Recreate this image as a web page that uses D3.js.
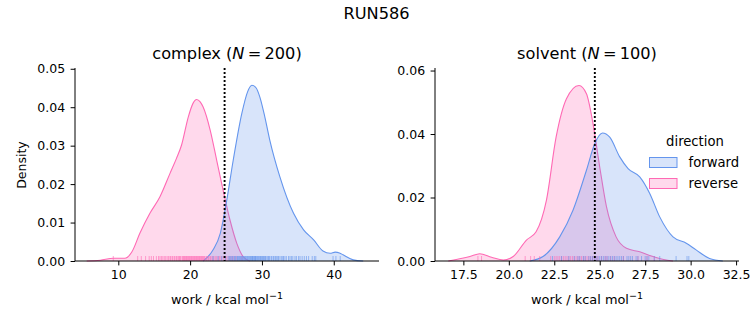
<!DOCTYPE html>
<html><head><meta charset="utf-8">
<script src="https://cdn.jsdelivr.net/npm/d3@7"></script>
<style>body{margin:0;background:#fff}svg{display:block;font-family:"DejaVu Sans",sans-serif}</style>
</head><body><svg id="c" width="753" height="325"></svg>
<script>
// ---- data ----
const panels = ["complex", "solvent"];
const panelN = [200, 100];
const directions = ["forward", "reverse"];
const colors = ["#6495ED", "#FF69B4"];
const deltaG = [24.8, 24.73];

// KDE curves [work, density]
const complexForward = [[21.8,0],[23.2,0.0029],[24.2,0.0072],[25.1,0.0158],[26.0,0.0262],[27.2,0.0384],[28.0,0.0440],[28.6,0.0457],[29.2,0.0450],[29.7,0.0427],[30.4,0.0375],[31.1,0.0314],[32.5,0.0219],[34.4,0.0124],[35.8,0.0081],[37.2,0.0055],[38.5,0.0026],[39.5,0.0020],[40.2,0.0023],[40.8,0.0021],[41.3,0.0016],[42.7,0.0003],[44.1,0]];
const complexReverse = [[5.6,0],[7.5,0.0002],[9.3,0.0007],[10.9,0.0007],[11.9,0.0024],[13.0,0.0072],[14.4,0.0124],[15.8,0.0167],[17.2,0.0228],[18.1,0.0267],[18.8,0.0301],[19.75,0.0375],[20.4,0.0410],[20.9,0.0420],[21.4,0.0414],[21.8,0.0401],[22.8,0.0340],[23.7,0.0262],[24.6,0.0184],[25.56,0.0106],[26.5,0.0046],[27.4,0.0011],[28.3,0]];
const solventForward = [[21.15,0],[21.88,0.0014],[22.8,0.0076],[23.53,0.0160],[24.27,0.0286],[24.73,0.0370],[25.15,0.0403],[25.55,0.0390],[26.1,0.0328],[26.56,0.0291],[27.2,0.0265],[27.75,0.0213],[28.3,0.0139],[29.03,0.0076],[29.76,0.0056],[30.3,0.0035],[31.04,0.0008],[31.77,0]];
const solventReverse = [[16.67,0],[17.86,0.0014],[18.4,0.0023],[19.05,0.0012],[19.7,0.0003],[20.24,0.0014],[20.97,0.0066],[21.5,0.0092],[22.07,0.0192],[22.6,0.0390],[23.17,0.0511],[23.86,0.0553],[24.27,0.0527],[24.63,0.0433],[25.0,0.0296],[25.37,0.0171],[25.9,0.0076],[26.47,0.0040],[27.2,0.0029],[27.93,0.0014],[28.66,0.0003],[29.03,0]];

// rug samples (work values)
const complexForwardRug = [23.2,23.9,24.4,24.9,25.3,25.5,25.6,25.8,25.9,26.1,26.2,26.3,26.5,26.6,26.7,26.8,26.9,27.0,27.1,27.2,27.3,27.4,27.5,27.6,27.7,27.8,27.9,28.0,28.1,28.2,28.3,28.4,28.5,28.6,28.65,28.7,28.8,28.9,29.0,29.05,29.1,29.2,29.3,29.4,29.5,29.6,29.7,29.8,29.9,30.0,30.1,30.2,30.3,30.4,30.5,30.6,30.8,30.9,31.0,31.1,31.3,31.4,31.6,31.7,31.9,32.0,32.2,32.3,32.5,32.7,32.9,33.0,33.2,33.4,33.7,33.9,34.1,34.3,34.6,34.8,35.1,35.3,35.6,35.9,36.2,36.5,37.0,37.3,37.5,39.9,40.3,40.9];
const complexReverseRug = [9.3,12.7,13.2,13.8,14.3,14.6,14.9,15.3,15.6,15.8,16.0,16.2,16.4,16.6,16.8,17.0,17.2,17.3,17.5,17.6,17.8,17.9,18.1,18.2,18.4,18.5,18.6,18.7,18.9,19.0,19.1,19.2,19.3,19.4,19.5,19.6,19.7,19.8,19.9,20.0,20.1,20.2,20.3,20.4,20.5,20.6,20.7,20.8,20.9,21.0,21.1,21.2,21.3,21.4,21.5,21.6,21.7,21.8,21.9,22.0,22.2,22.3,22.5,22.6,22.8,22.9,23.1,23.3,23.5,23.7,23.9,24.1,24.3,24.6,24.9,25.1,25.4,25.7,26.0,26.4,27.2];
const solventForwardRug = [22.4,22.9,23.3,23.6,23.8,23.9,24.1,24.2,24.4,24.5,24.6,24.7,24.8,24.9,25.0,25.1,25.2,25.3,25.4,25.5,25.6,25.7,25.8,25.9,26.0,26.1,26.2,26.3,26.5,26.6,26.7,26.8,27.0,27.1,27.3,27.5,27.6,27.7,28.0,28.3,29.2,29.8,29.9];
const solventReverseRug = [18.3,18.5,20.9,21.2,21.4,21.7,22.3,22.5,22.6,22.7,22.8,22.9,23.0,23.1,23.2,23.3,23.4,23.5,23.6,23.7,23.8,23.9,24.0,24.1,24.2,24.3,24.4,24.5,24.6,24.7,24.8,24.9,25.1,25.3,25.4,25.6,25.8,26.3,27.1,27.6,28.0];

const xTicks = [[10,20,30,40],[17.5,20.0,22.5,25.0,27.5,30.0,32.5]];
const yTicks = [[0,0.01,0.02,0.03,0.04,0.05],[0,0.02,0.04,0.06]];
const xDomains = [[3.97,46.3],[15.94,32.66]];
const yDomains = [[0,0.0502],[0,0.0608]];

const curves = [[complexForward, complexReverse],[solventForward, solventReverse]];
const rugs = [[complexForwardRug, complexReverseRug],[solventForwardRug, solventReverseRug]];

// ---- layout ----
const svg = d3.select("#c");
const fs = 12.5;
const tfs = 16.2;
const panelX = [[75,379],[435,739]];
const plotTop = 68, plotBottom = 261;

svg.append("text").attr("x",376.5).attr("y",19).attr("text-anchor","middle")
  .attr("font-size",tfs).text("RUN586");

panels.forEach((name, p) => {
  const x = d3.scaleLinear().domain(xDomains[p]).range(panelX[p]);
  const y = d3.scaleLinear().domain(yDomains[p]).range([plotBottom, plotTop]);
  const g = svg.append("g");

  const area = d3.area().x(d=>x(d[0])).y0(y(0)).y1(d=>y(d[1])).curve(d3.curveMonotoneX);
  const line = d3.line().x(d=>x(d[0])).y(d=>y(d[1])).curve(d3.curveMonotoneX);

  [1,0].forEach(i => {
    g.append("path").attr("d", area(curves[p][i])).attr("fill", colors[i]).attr("fill-opacity",0.25);
    g.append("path").attr("d", line(curves[p][i])).attr("fill","none").attr("stroke",colors[i]).attr("stroke-width",1.1);
  });
  [1,0].forEach(i => {
    g.selectAll(null).data(rugs[p][i]).enter().append("line")
      .attr("x1",d=>x(d)).attr("x2",d=>x(d)).attr("y1",plotBottom).attr("y2",plotBottom-5)
      .attr("stroke",colors[i]).attr("stroke-width",1).attr("stroke-opacity",0.6);
  });

  g.append("line").attr("x1",x(deltaG[p])).attr("x2",x(deltaG[p])).attr("y1",plotTop).attr("y2",plotBottom)
    .attr("stroke","#000").attr("stroke-width",1.9).attr("stroke-dasharray","1.9,2.1");

  const xa = g.append("g").attr("transform",`translate(0,${plotBottom})`)
    .call(d3.axisBottom(x).tickValues(xTicks[p]).tickSize(4.4).tickPadding(4.4)
      .tickFormat(p===0 ? d3.format("d") : d3.format(".1f")));
  const ya = g.append("g").attr("transform",`translate(${panelX[p][0]},0)`)
    .call(d3.axisLeft(y).tickValues(yTicks[p]).tickSize(4.4).tickPadding(5.5).tickFormat(d3.format(".2f")));
  [xa, ya].forEach(a => {
    a.select(".domain").attr("stroke","#000").attr("stroke-width",1);
    a.selectAll(".tick line").attr("stroke","#000").attr("stroke-width",1);
    a.selectAll(".tick text").attr("font-size",fs).attr("fill","#000").attr("font-family","DejaVu Sans");
  });
  xa.select(".domain").attr("d",`M${panelX[p][0]},0H${panelX[p][1]}`);
  ya.select(".domain").attr("d",`M0,${plotBottom}V${plotTop}`);

  const cx = (panelX[p][0]+panelX[p][1])/2;
  const t = svg.append("text").attr("x",cx).attr("y",59).attr("text-anchor","middle").attr("font-size",tfs);
  t.append("tspan").text(name + " (");
  t.append("tspan").attr("font-style","italic").text("N");
  t.append("tspan").text("\u2009=\u2009" + panelN[p] + ")");

  const xl = svg.append("text").attr("x",cx).attr("y",304).attr("text-anchor","middle").attr("font-size",12.9);
  xl.append("tspan").text("work / kcal mol");
  xl.append("tspan").attr("font-size",9.5).attr("dy",-5).text("\u22121");
});

svg.append("text").attr("transform","translate(25.5,165) rotate(-90)").attr("text-anchor","middle")
  .attr("font-size",fs).text("Density");

const lfs = 13.2;
const lg = svg.append("g");
lg.append("text").attr("x",695).attr("y",146).attr("text-anchor","middle").attr("font-size",lfs).text("direction");
directions.forEach((d,i) => {
  const yy = 157.5 + i*21;
  lg.append("rect").attr("x",649.5).attr("y",yy).attr("width",27.5).attr("height",10)
    .attr("fill",colors[i]).attr("fill-opacity",0.25).attr("stroke",colors[i]).attr("stroke-width",1);
  lg.append("text").attr("x",688.5).attr("y",yy+9.8).attr("font-size",lfs).text(d);
});
</script></body></html>
